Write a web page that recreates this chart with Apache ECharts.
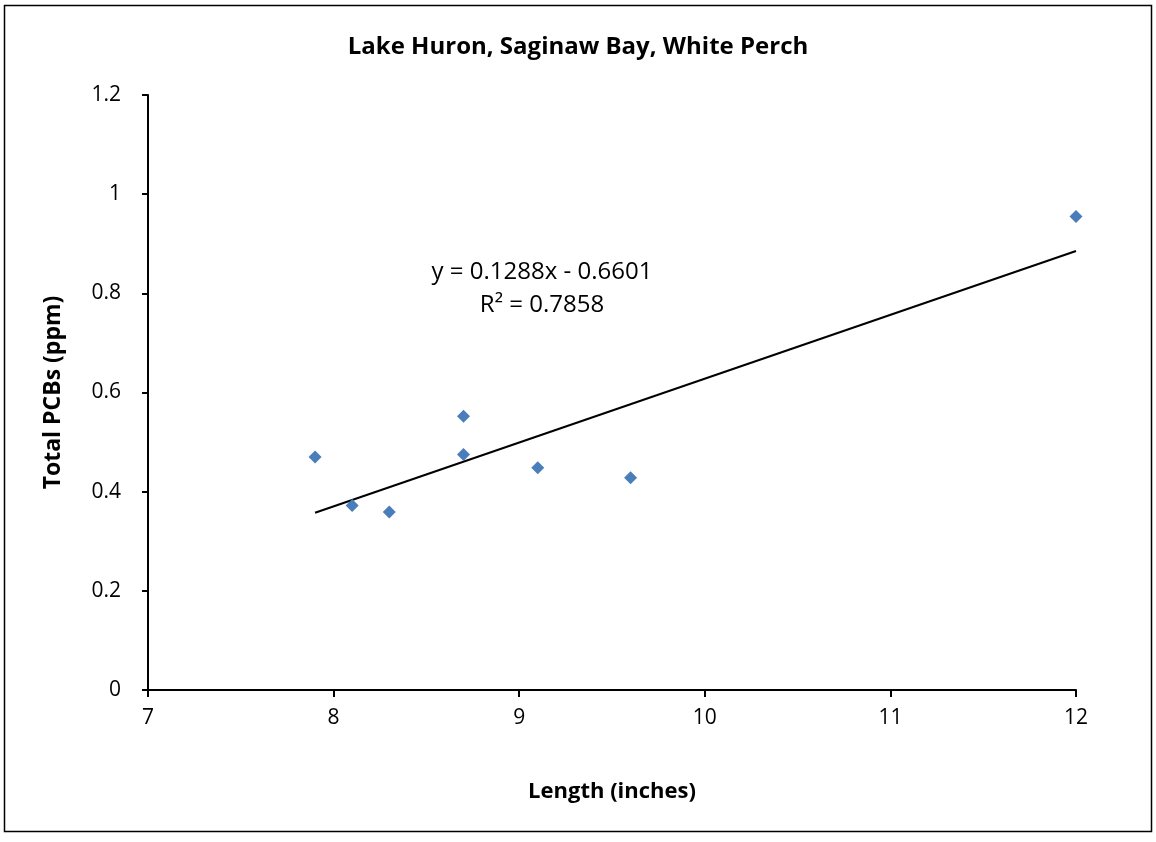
<!DOCTYPE html>
<html>
<head>
<meta charset="utf-8">
<script src="https://cdn.jsdelivr.net/npm/echarts@6/dist/echarts.min.js"></script>
<style>
html,body{margin:0;padding:0;background:#fff;}
#chart{width:1156px;height:842px;}
</style>
</head>
<body>
<div id="chart"></div>
<script>
const titleText = 'Lake Huron, Saginaw Bay, White Perch';
const xName = 'Length (inches)';
const yName = 'Total PCBs (ppm)';
const lengths = [7.9, 8.1, 8.3, 8.7, 8.7, 9.1, 9.6, 12];
const pcbs = [0.470, 0.372, 0.359, 0.552, 0.475, 0.448, 0.428, 0.955];
const slope = 0.1288;
const intercept = -0.6601;
const eqLabel = 'y = 0.1288x - 0.6601';
const r2Label = 'R² = 0.7858';

const FONT = '"Open Sans", Lato, sans-serif';
const points = lengths.map((x, i) => [x, pcbs[i]]);
const xMin = Math.min(...lengths), xMax = Math.max(...lengths);
const trend = [[xMin, slope * xMin + intercept], [xMax, slope * xMax + intercept]];

const chart = echarts.init(document.getElementById('chart'));
chart.setOption({
  animation: false,
  backgroundColor: '#fff',
  title: {
    text: titleText, left: 'center', top: 30,
    textStyle: {fontFamily: FONT, fontSize: 24, fontWeight: 'bold', color: '#000'}
  },
  grid: {left: 148, right: 80, top: 95, bottom: 152},
  xAxis: {
    type: 'value', min: 7, max: 12, interval: 1,
    name: xName, nameLocation: 'middle', nameGap: 91,
    nameTextStyle: {fontFamily: FONT, fontSize: 22, fontWeight: 'bold', color: '#000'},
    axisLine: {show: true, onZero: false, lineStyle: {color: '#000', width: 2}},
    axisTick: {show: true, length: 7, lineStyle: {color: '#000', width: 2}},
    axisLabel: {fontFamily: FONT, fontSize: 21, color: '#000', margin: 18},
    splitLine: {show: false}
  },
  yAxis: {
    type: 'value', min: 0, max: 1.2, interval: 0.2,
    name: yName, nameLocation: 'middle', nameGap: 83,
    nameTextStyle: {fontFamily: FONT, fontSize: 23, fontWeight: 'bold', color: '#000'},
    axisLine: {show: true, lineStyle: {color: '#000', width: 2}},
    axisTick: {show: true, length: 6, lineStyle: {color: '#000', width: 2}},
    axisLabel: {fontFamily: FONT, fontSize: 21, color: '#000', margin: 27,
      formatter: v => String(parseFloat(v.toFixed(1)))},
    splitLine: {show: false}
  },
  series: [
    {
      type: 'line', data: trend, showSymbol: false, symbol: 'none',
      lineStyle: {color: '#000', width: 2}, silent: true, z: 2
    },
    {
      type: 'scatter', data: points, symbol: 'diamond', symbolSize: 13,
      itemStyle: {color: '#4A7EBB', opacity: 1}, z: 3
    }
  ],
  graphic: [
    {type: 'rect', shape: {x: 4.5, y: 5.5, width: 1147, height: 826},
      style: {fill: null, stroke: '#000', lineWidth: 1.5}, silent: true, z: -1},
    {type: 'text', x: 542, y: 272,
      style: {text: eqLabel, fontFamily: FONT, fontSize: 24, fill: '#000', align: 'center', verticalAlign: 'middle'}},
    {type: 'text', x: 542, y: 305,
      style: {text: r2Label, fontFamily: FONT, fontSize: 24, fill: '#000', align: 'center', verticalAlign: 'middle'}}
  ]
});
</script>
</body>
</html>
